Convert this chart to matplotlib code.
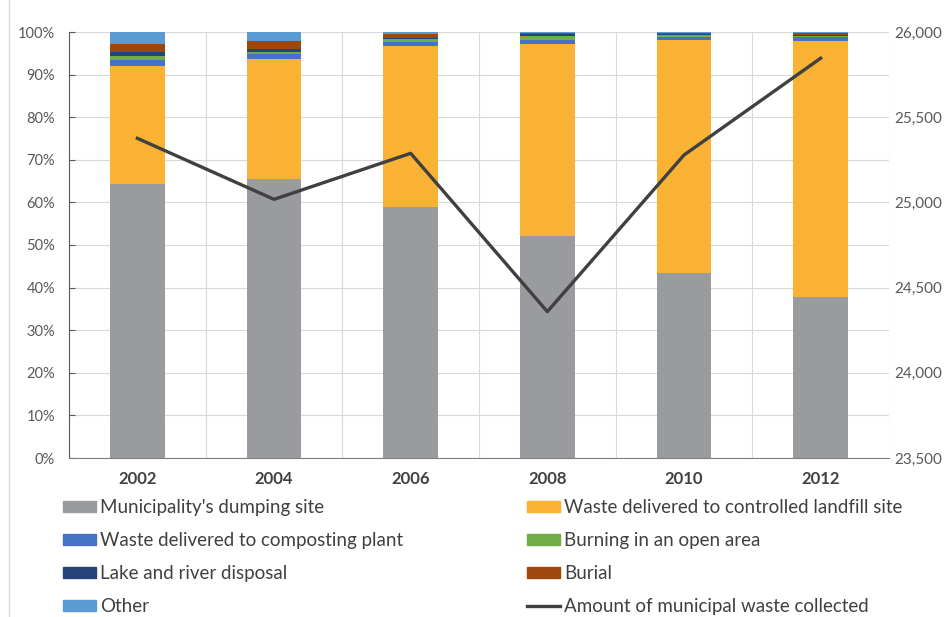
import numpy as np
import matplotlib.pyplot as plt
from matplotlib.patches import Patch
from matplotlib.lines import Line2D

plt.rcParams['font.family'] = ['Lato', 'DejaVu Sans']

years = ['2002', '2004', '2006', '2008', '2010', '2012']
# share of each disposal method, %
dumping = [64.3, 65.5, 59.0, 52.1, 43.5, 37.8]
landfill = [27.8, 28.1, 37.8, 45.0, 54.6, 60.1]
composting = [1.4, 1.2, 0.9, 1.0, 0.8, 0.9]
burning = [0.9, 0.4, 0.6, 0.9, 0.5, 0.3]
lake = [0.9, 0.8, 0.4, 0.5, 0.2, 0.3]
burial = [1.9, 2.0, 0.8, 0.3, 0.1, 0.4]
other = [2.7, 2.0, 0.5, 0.2, 0.3, 0.2]
# amount of municipal waste collected (right axis)
collected = [25376, 25018, 25288, 24359, 25278, 25846]

series = [
    ("Municipality's dumping site", dumping, '#9A9B9E'),
    ('Waste delivered to controlled landfill site', landfill, '#F9B233'),
    ('Waste delivered to composting plant', composting, '#4472C4'),
    ('Burning in an open area', burning, '#70AD47'),
    ('Lake and river disposal', lake, '#264478'),
    ('Burial', burial, '#9E480E'),
    ('Other', other, '#5B9BD5'),
]
line_label = 'Amount of municipal waste collected'
line_color = '#404040'

fig = plt.figure(figsize=(9.44, 6.17), dpi=100)
ax = fig.add_axes([69 / 944, 1 - 458 / 617, 820 / 944, 426 / 617])

x = np.arange(len(years))
bottom = np.zeros(len(years))
for name, vals, col in series:
    ax.bar(x, vals, 0.4, bottom=bottom, color=col, label=name, zorder=2)
    bottom += np.array(vals)

ax.set_xlim(-0.5, len(years) - 0.5)
ax.set_ylim(0, 100)
ax.set_yticks(np.arange(0, 101, 10))
ax.set_yticklabels([f'{v}%' for v in range(0, 101, 10)])
ax.set_xticks(x)
ax.set_xticklabels(years, fontsize=12, fontweight='bold', color='#404040')
ax.set_xticks(x + 0.5, minor=True)
ax.tick_params(axis='x', which='both', length=0, pad=9)
ax.tick_params(axis='y', direction='in', length=4, color='#595959', labelsize=10.5,
               labelcolor='#595959', pad=10)
ax.grid(axis='y', color='#D9D9D9', lw=0.8, zorder=0)
ax.grid(axis='x', which='minor', color='#D9D9D9', lw=0.8, zorder=0)
ax.set_axisbelow(True)
for s in ['top', 'right']:
    ax.spines[s].set_visible(False)
ax.spines['left'].set_color('#595959')
ax.spines['bottom'].set_color('#7F7F7F')

ax2 = ax.twinx()
ax2.plot(x, collected, color=line_color, lw=2.4, zorder=5)
ax2.set_ylim(23500, 26000)
ax2.set_yticks(np.arange(23500, 26001, 500))
ax2.set_yticklabels([f'{v:,}' for v in range(23500, 26001, 500)])
ax2.tick_params(axis='y', length=0, labelsize=11, labelcolor='#595959', pad=4)
for s in ax2.spines.values():
    s.set_visible(False)

# legend: two separate columns
h = [Patch(color=c, label=n) for n, _, c in series]
hl = Line2D([], [], color=line_color, lw=2.4, label=line_label)
left_col = [h[0], h[2], h[4], h[6]]
right_col = [h[1], h[3], h[5], hl]
for handles, xpos in [(left_col, 63 / 944), (right_col, 527 / 944)]:
    fig.legend(handles=handles, loc='upper left', bbox_to_anchor=(xpos, 1 - 499 / 617),
               frameon=False, fontsize=13.5, labelcolor='#404040', handlelength=1.75,
               handleheight=0.5, handletextpad=0.25, labelspacing=0.86,
               borderpad=0, borderaxespad=0)

# chart frame edge
fig.add_artist(Line2D([9 / 944, 9 / 944], [0, 1], color='#D9D9D9', lw=1))

fig.savefig('out.png', dpi=100)
